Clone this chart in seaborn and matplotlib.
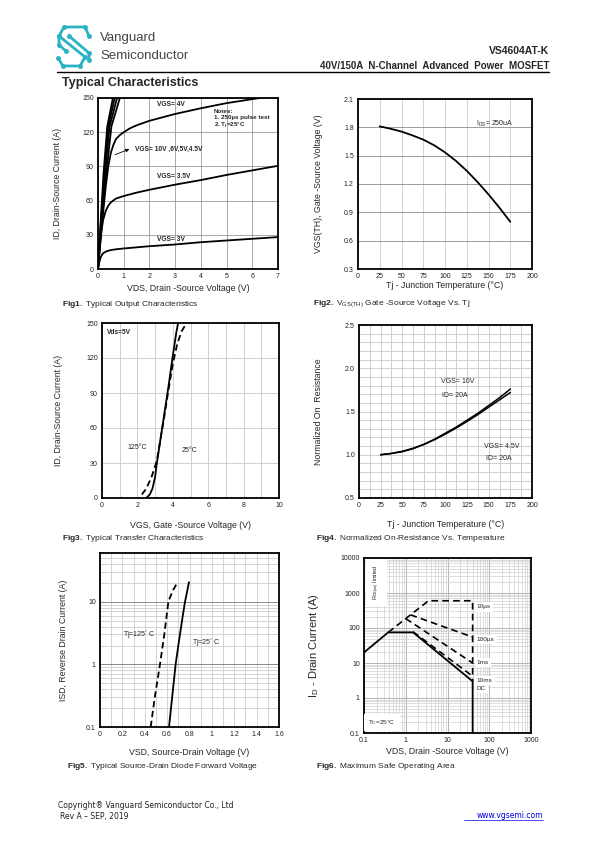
import matplotlib
matplotlib.use('Agg')
import matplotlib.pyplot as plt
import matplotlib.ticker as mticker
import seaborn as sns

# --- Fig1: output characteristics (ID vs VDS) ---
vds_3v = [0, 0.05, 0.1, 0.15, 0.2, 0.3, 0.4, 0.5, 0.7, 1, 2, 3, 4, 5, 6, 7]
id_3v = [0, 6, 10, 12.3, 13.8, 15.2, 16, 16.6, 17.3, 18, 20, 21.5, 23.5, 25, 26.5, 28]
vds_35v = [0, 0.05, 0.1, 0.15, 0.2, 0.3, 0.4, 0.5, 0.7, 1, 1.5, 2, 3, 4, 5, 6, 7]
id_35v = [0, 15, 27, 36, 43, 51, 55.5, 58.5, 61.8, 64, 67, 69.5, 74, 78, 82.5, 86.5, 90.5]
vds_4v = [0, 0.1, 0.2, 0.3, 0.4, 0.5, 0.6, 0.7, 0.85, 1, 1.25, 1.5, 2, 3, 4, 5, 6, 6.3]
id_4v = [0, 25, 50, 72, 90, 102, 109, 114, 117.5, 120, 123.5, 126, 130, 136, 141, 145.5, 149, 150]
id_steep = [0, 40, 85, 125, 150]
vds_10v = [0, 0.10, 0.22, 0.36, 0.58]
vds_6v = [0, 0.11, 0.25, 0.40, 0.65]
vds_5v = [0, 0.12, 0.28, 0.45, 0.74]
vds_45v = [0, 0.14, 0.33, 0.52, 0.85]

# --- Fig2: threshold voltage vs Tj ---
tj_vth = [25, 37.5, 50, 62.5, 75, 87.5, 100, 112.5, 125, 137.5, 150, 162.5, 175]
vth = [1.81, 1.785, 1.755, 1.715, 1.67, 1.61, 1.535, 1.445, 1.34, 1.22, 1.09, 0.95, 0.80]

# --- Fig3: transfer characteristics ---
vgs_25c = [2.5, 2.7, 2.85, 3.0, 3.1, 3.3, 3.5, 3.75, 4.0, 4.2, 4.3]
id_25c = [0, 3, 8, 18, 30, 50, 70, 95, 122, 142, 150]
vgs_125c = [2.25, 2.5, 2.8, 3.1, 3.3, 3.5, 3.75, 4.0, 4.25, 4.5, 4.7]
id_125c = [3, 8, 18, 32, 50, 68, 92, 115, 132, 143, 148]

# --- Fig4: normalized on-resistance vs Tj ---
tj_rds = [25, 37.5, 50, 62.5, 75, 87.5, 100, 112.5, 125, 137.5, 150, 162.5, 175]
rds_10v = [1.0, 1.015, 1.04, 1.075, 1.12, 1.18, 1.25, 1.32, 1.40, 1.48, 1.57, 1.66, 1.76]
rds_45v = [1.0, 1.015, 1.035, 1.07, 1.12, 1.175, 1.24, 1.31, 1.385, 1.465, 1.55, 1.635, 1.72]

# --- Fig5: body diode forward voltage ---
vsd_25c = [0.617, 0.645, 0.676, 0.70, 0.74, 0.76, 0.78, 0.795]
isd_25c = [0.1, 0.3, 1, 2, 6, 10, 15, 20.5]
vsd_125c = [0.453, 0.49, 0.536, 0.575, 0.611, 0.65, 0.694]
isd_125c = [0.1, 0.3, 1, 3, 10, 15, 20.5]

# --- Fig6: safe operating area ---
soa_dc_v = [0.1, 0.38, 1.5, 40, 40]
soa_dc_i = [20, 75, 75, 3, 0.1]
soa_10us_v = [0.38, 3.5, 40, 40]
soa_10us_i = [75, 600, 600, 3]
soa_100us_v = [1.3, 40]
soa_100us_i = [238, 55]
soa_1ms_v = [1.0, 40]
soa_1ms_i = [186, 10]
soa_10ms_v = [1.5, 40]
soa_10ms_i = [78, 4.2]
soa_labels = ['10µs', '100µs', '1ms', '10ms', 'DC']
soa_label_i = [400, 46, 10.6, 3.1, 1.9]

W, H = 595, 842
sns.set_style("white")
plt.rcParams['font.family'] = ['Liberation Sans', 'DejaVu Sans']
plt.rcParams['mathtext.fontset'] = 'custom'
plt.rcParams['mathtext.rm'] = 'Liberation Sans'
plt.rcParams['mathtext.bf'] = 'Liberation Sans:bold'
plt.rcParams['mathtext.it'] = 'Liberation Sans:italic'

fig = plt.figure(figsize=(W / 100, H / 100), dpi=100)

# page overlay in pixel coordinates
page = fig.add_axes([0, 0, 1, 1])
page.set_xlim(0, W)
page.set_ylim(H, 0)
page.axis('off')


def px_axes(l, t, r, b):
    return fig.add_axes([l / W, 1 - b / H, (r - l) / W, (b - t) / H])


def style(ax, xlab, ylab, xl, yl):
    for s in ax.spines.values():
        s.set_linewidth(1.3)
        s.set_color('black')
    ax.tick_params(which='both', length=0, labelsize=5, pad=3, colors='#222222')
    ax.set_xlabel(xlab, fontsize=6.3)
    ax.set_ylabel(ylab, fontsize=6.3)
    ax.xaxis.set_label_coords(0.5, xl)
    ax.yaxis.set_label_coords(yl, 0.5)


def line(ax, x, y, ls='-', lw=1.3):
    sns.lineplot(x=x, y=y, ax=ax, color='black', lw=lw, linestyle=ls,
                 estimator=None, sort=False)


# ---- header ----
teal = '#2ab3c4'
logo1 = [(89, 36), (85, 27), (64, 27), (59, 36), (85, 57), (80, 66), (63, 66), (58, 58)]
logo2 = [(69, 36), (89, 53), (89, 60)]
logo3 = [(59, 36), (59, 45), (66, 51)]
for pts in (logo1, logo2, logo3):
    page.plot([p[0] for p in pts], [p[1] for p in pts], color=teal, lw=2,
              marker='o', ms=2.5, solid_capstyle='round')
page.text(100, 38, 'Vanguard', fontsize=9.5, color='#444444', va='center')
page.text(100, 56, 'Semiconductor', fontsize=9.5, color='#444444', va='center')
page.text(549, 51, 'VS4604AT-K', fontsize=7.5, fontweight='bold', ha='right', va='center')
page.text(549, 66, '40V/150A  N-Channel  Advanced  Power  MOSFET', fontsize=7,
          fontweight='bold', ha='right', va='center')
page.plot([57, 549], [71.5, 71.5], color='black', lw=1)
page.text(62, 83, 'Typical Characteristics', fontsize=9, fontweight='bold', va='center')

# ---- Fig1 ----
ax1 = px_axes(98, 98, 278, 269)
for xs, ys in [(vds_3v, id_3v), (vds_35v, id_35v), (vds_4v, id_4v),
               (vds_10v, id_steep), (vds_6v, id_steep), (vds_5v, id_steep),
               (vds_45v, id_steep)]:
    line(ax1, xs, ys)
ax1.set_xlim(0, 7)
ax1.set_ylim(0, 150)
ax1.set_xticks(range(0, 8))
ax1.set_yticks(range(0, 151, 30))
ax1.grid(True, color='#9a9a9a', lw=0.6)
style(ax1, 'VDS, Drain -Source Voltage (V)', 'ID, Drain-Source Current (A)', -0.088, -0.2)
fkw = dict(fontsize=4.8, fontweight='bold')
ax1.text(2.3, 143, 'VGS= 4V', **fkw)
ax1.text(2.3, 80, 'VGS= 3.5V', **fkw)
ax1.text(2.3, 24.5, 'VGS= 3V', **fkw)
ax1.text(1.42, 104, 'VGS= 10V ,6V,5V,4.5V', **fkw)
ax1.text(4.5, 140, 'Notes:\n1. 250µs pulse test\n2. T$_{\\mathregular{j}}$=25°C',
         linespacing=1.15, va='top', fontsize=4.5, fontweight='bold')
ax1.annotate('', xy=(1.32, 106), xytext=(0.56, 99.4),
             arrowprops=dict(arrowstyle='-|>', color='black', lw=0.6, mutation_scale=5))

# ---- Fig2 ----
ax2 = px_axes(358, 99, 532, 269)
line(ax2, tj_vth, vth)
ax2.set_xlim(0, 200)
ax2.set_ylim(0.3, 2.1)
ax2.set_xticks(range(0, 201, 25))
ax2.set_yticks([0.3, 0.6, 0.9, 1.2, 1.5, 1.8, 2.1])
ax2.yaxis.set_major_formatter(mticker.FormatStrFormatter('%.1f'))
ax2.grid(True, axis='x', color='#cccccc', lw=0.6)
ax2.grid(True, axis='y', color='#8a8a8a', lw=0.6)
style(ax2, 'Tj - Junction Temperature (°C)', 'VGS(TH), Gate -Source Voltage (V)', -0.07, -0.2)
ax2.text(136, 1.82, 'I$_{\\mathregular{DS}}$= 250uA', fontsize=5)

# ---- Fig3 ----
ax3 = px_axes(102, 323, 279, 498)
line(ax3, vgs_25c, id_25c)
line(ax3, vgs_125c, id_125c, ls=(0, (3.5, 2)))
ax3.set_xlim(0, 10)
ax3.set_ylim(0, 150)
ax3.set_xticks(range(0, 11, 2))
ax3.xaxis.set_minor_locator(mticker.MultipleLocator(1))
ax3.set_yticks(range(0, 151, 30))
ax3.grid(True, which='both', color='#c8c8c8', lw=0.6)
style(ax3, 'VGS, Gate -Source Voltage (V)', 'ID, Drain-Source Current (A)', -0.13, -0.22)
ax3.text(0.3, 141, 'Vds=5V', fontsize=4.8, fontweight='bold')
ax3.text(1.45, 42, '125°C', fontsize=5)
ax3.text(4.5, 39, '25°C', fontsize=5)

# ---- Fig4 ----
ax4 = px_axes(359, 325, 532, 498)
line(ax4, tj_rds, rds_10v, lw=1.1)
line(ax4, tj_rds, rds_45v, lw=1.1)
ax4.set_xlim(0, 200)
ax4.set_ylim(0.5, 2.5)
ax4.set_xticks(range(0, 201, 25))
ax4.xaxis.set_minor_locator(mticker.MultipleLocator(12.5))
ax4.set_yticks([0.5, 1.0, 1.5, 2.0, 2.5])
ax4.yaxis.set_minor_locator(mticker.MultipleLocator(0.1))
ax4.yaxis.set_major_formatter(mticker.FormatStrFormatter('%.1f'))
ax4.grid(True, which='both', color='#c8c8c8', lw=0.6)
style(ax4, 'Tj - Junction Temperature (°C)', 'Normalized On  Resistance', -0.13, -0.21)
ax4.text(95, 1.85, 'VGS= 10V', fontsize=5, va='center')
ax4.text(96, 1.69, 'ID= 20A', fontsize=5, va='center')
ax4.text(145, 1.10, 'VGS= 4.5V', fontsize=5, va='center')
ax4.text(147, 0.96, 'ID= 20A', fontsize=5, va='center')

# ---- Fig5 ----
ax5 = px_axes(100, 553, 279, 727)
line(ax5, vsd_25c, isd_25c)
line(ax5, vsd_125c, isd_125c, ls=(0, (3.5, 2)))
ax5.set_yscale('log')
ax5.set_xlim(0, 1.6)
ax5.set_ylim(0.1, 60)
ax5.set_xticks([0, 0.2, 0.4, 0.6, 0.8, 1.0, 1.2, 1.4, 1.6])
ax5.xaxis.set_major_formatter(mticker.FuncFormatter(lambda v, p: f'{v:g}'))
ax5.xaxis.set_minor_locator(mticker.MultipleLocator(0.1))
ax5.set_yticks([0.1, 1, 10])
ax5.yaxis.set_major_formatter(mticker.FuncFormatter(lambda v, p: f'{v:g}'))
ax5.yaxis.set_minor_locator(mticker.LogLocator(subs=range(2, 10)))
ax5.yaxis.set_minor_formatter(mticker.NullFormatter())
ax5.grid(True, which='minor', color='#cccccc', lw=0.6)
ax5.grid(True, which='major', axis='x', color='#cccccc', lw=0.6)
ax5.grid(True, which='major', axis='y', color='#8a8a8a', lw=0.7)
style(ax5, 'VSD, Source-Drain Voltage (V)', 'ISD, Reverse Drain Current (A)', -0.12, -0.18)
ax5.text(0.21, 3.0, 'Tj=125$^{\\mathregular{°}}$ C', fontsize=5, va='center')
ax5.text(0.82, 2.25, 'Tj=25$^{\\mathregular{°}}$ C', fontsize=5, va='center')

# ---- Fig6 ----
ax6 = px_axes(364, 558, 531, 733)
dash = (0, (4, 2.5))
line(ax6, soa_dc_v, soa_dc_i)
line(ax6, soa_10us_v, soa_10us_i, ls=dash, lw=1.2)
line(ax6, soa_100us_v, soa_100us_i, ls=dash, lw=1.2)
line(ax6, soa_1ms_v, soa_1ms_i, ls=dash, lw=1.2)
line(ax6, soa_10ms_v, soa_10ms_i, ls=dash, lw=1.2)
ax6.set_xscale('log')
ax6.set_yscale('log')
ax6.set_xlim(0.1, 1000)
ax6.set_ylim(0.1, 10000)
gfmt = mticker.FuncFormatter(lambda v, p: f'{v:g}')
ax6.set_xticks([0.1, 1, 10, 100, 1000])
ax6.set_yticks([0.1, 1, 10, 100, 1000, 10000])
ax6.xaxis.set_major_formatter(gfmt)
ax6.yaxis.set_major_formatter(gfmt)
for a in (ax6.xaxis, ax6.yaxis):
    a.set_minor_locator(mticker.LogLocator(subs=range(2, 10)))
    a.set_minor_formatter(mticker.NullFormatter())
ax6.grid(True, which='minor', color='#d0d0d0', lw=0.5)
ax6.grid(True, which='major', color='#a8a8a8', lw=0.6)
style(ax6, 'VDS, Drain -Source Voltage (V)', 'I$_{\\mathregular{D}}$ - Drain Current (A)', -0.08, -0.26)
ax6.yaxis.label.set_fontsize(8)
wb = dict(facecolor='white', edgecolor='none', pad=1.5)
for lab, yv in zip(soa_labels, soa_label_i):
    ax6.text(50, yv, lab, fontsize=4.6, va='center', bbox=wb)
ax6.text(0.2, 2000, 'R$_{\\mathregular{DS(on)}}$ limited', fontsize=4, rotation=90,
         ha='center', va='center', bbox=dict(facecolor='white', edgecolor='none', pad=4))
ax6.text(0.27, 0.2, 'T$_{\\mathregular{C}}$=25°C', fontsize=4.6, ha='center', va='center',
         bbox=dict(facecolor='white', edgecolor='none', pad=3))

# ---- captions ----
cap = dict(fontsize=6, va='center')
page.text(62, 304, '$\\mathbf{Fig1.}$ Typical Output Characteristics', **cap)
page.text(313, 304, '$\\mathbf{Fig2.}$ V$_{\\mathregular{GS(TH)}}$ Gate -Source Voltage Vs. Tj', **cap)
page.text(62, 539, '$\\mathbf{Fig3.}$ Typical Transfer Characteristics', **cap)
page.text(316, 539, '$\\mathbf{Fig4.}$ Normalized On-Resistance Vs. Temperature', **cap)
page.text(67, 766, '$\\mathbf{Fig5.}$ Typical Source-Drain Diode Forward Voltage', **cap)
page.text(316, 766, '$\\mathbf{Fig6.}$ Maximum Safe Operating Area', **cap)

# ---- footer ----
foot = dict(fontsize=5.5, va='center', family=['DejaVu Sans'], color='#222222')
page.text(58, 805, 'Copyright® Vanguard Semiconductor Co., Ltd', **foot)
page.text(60, 816, 'Rev A – SEP, 2019', **foot)
page.text(543, 816, 'www.vgsemi.com', fontsize=5.5, va='center', ha='right',
          family=['DejaVu Sans'], color='#0000ee')
page.plot([464, 543], [820, 820], color='#0000ee', lw=0.5)

fig.savefig('out.png', dpi=100)
plt.close(fig)
print("Saved 'out.png'")
